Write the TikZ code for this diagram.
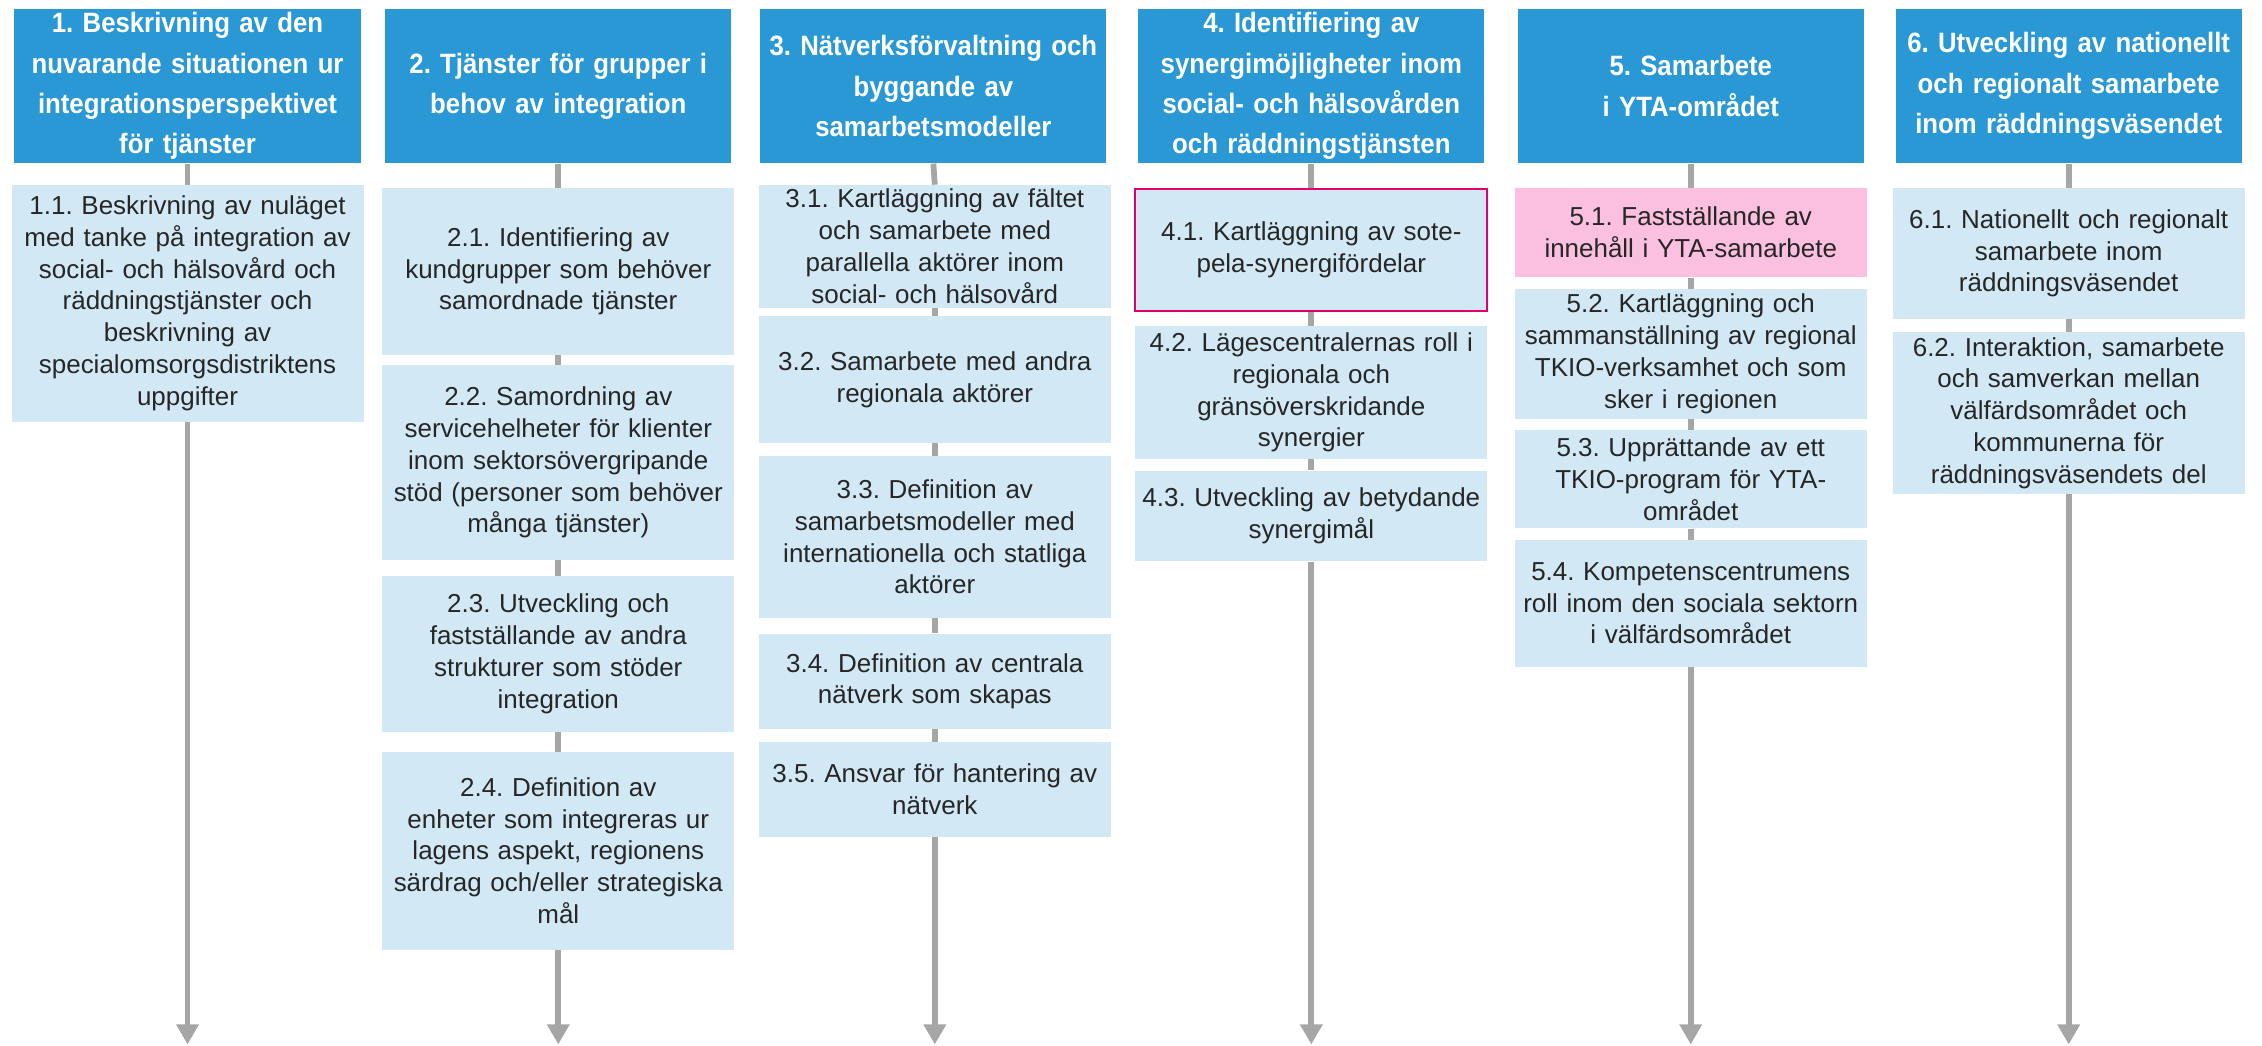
\documentclass[tikz,border=0pt]{standalone}
\usepackage{fontspec}
\setmainfont{Liberation Sans}
\newfontfamily\headfont{Liberation Sans}[FakeStretch=0.92]
\usetikzlibrary{arrows.meta}
\definecolor{hblue}{RGB}{41,152,213}
\definecolor{lblue}{RGB}{210,233,245}
\definecolor{pinkf}{RGB}{251,192,223}
\definecolor{pinkb}{RGB}{224,0,110}
\definecolor{gline}{RGB}{166,166,166}
\definecolor{txt}{RGB}{38,38,38}
\begin{document}
\frenchspacing\hyphenpenalty=10000
\begin{tikzpicture}[x=1pt,y=-1pt,
 head/.style={fill=hblue, text=white, font=\headfont\bfseries\fontsize{19.4}{28}\selectfont, anchor=north, minimum width=240pt, text width=240pt, align=center, inner sep=0pt, minimum height=107pt},
 sub/.style={fill=lblue, text=txt, font=\fontsize{18}{22}\selectfont, anchor=north, minimum width=244pt, text width=244pt, align=center, inner sep=0pt},
 hlfill/.style={sub, fill=pinkf},
 hlborder/.style={sub, draw=pinkb, line width=1.6pt},
 conn/.style={draw=gline, line width=4pt},
 arr/.style={conn, -{Triangle[width=15pt,length=14pt]}}]
\useasboundingbox (0,0) rectangle (1568,725);
% headers
\node[head] (h1) at (130,6) {1. Beskrivning av den\\nuvarande situationen ur\\integrationsperspektivet\\för tjänster};
\node[head] (h2) at (387,6) {2. Tjänster för grupper i\\behov av integration};
\node[head] (h3) at (647,6) {3. Nätverksförvaltning och\\byggande av\\samarbetsmodeller};
\node[head] (h4) at (909,6) {4. Identifiering av\\synergimöjligheter inom\\social- och hälsovården\\och räddningstjänsten};
\node[head] (h5) at (1172,6) {5. Samarbete\\i YTA-området};
\node[head] (h6) at (1434,6) {6. Utveckling av nationellt\\och regionalt samarbete\\inom räddningsväsendet};
% column 1
\node[sub, minimum height=164pt] (s11) at (130,128) {1.1. Beskrivning av nuläget\\med tanke på integration av\\social- och hälsovård och\\räddningstjänster och\\beskrivning av\\specialomsorgsdistriktens\\uppgifter};
% column 2
\node[sub, minimum height=116pt] (s21) at (387,130) {2.1. Identifiering av\\kundgrupper som behöver\\samordnade tjänster};
\node[sub, minimum height=135pt] (s22) at (387,253) {2.2. Samordning av\\servicehelheter för klienter\\inom sektorsövergripande\\stöd (personer som behöver\\många tjänster)};
\node[sub, minimum height=108pt] (s23) at (387,399) {2.3. Utveckling och\\fastställande av andra\\strukturer som stöder\\integration};
\node[sub, minimum height=137pt] (s24) at (387,521) {2.4. Definition av\\enheter som integreras ur\\lagens aspekt, regionens\\särdrag och/eller strategiska\\mål};
% column 3
\node[sub, minimum height=85pt] (s31) at (648,128) {3.1. Kartläggning av fältet\\och samarbete med\\parallella aktörer inom\\social- och hälsovård};
\node[sub, minimum height=88pt] (s32) at (648,219) {3.2. Samarbete med andra\\regionala aktörer};
\node[sub, minimum height=112pt] (s33) at (648,316) {3.3. Definition av\\samarbetsmodeller med\\internationella och statliga\\aktörer};
\node[sub, minimum height=66pt] (s34) at (648,439) {3.4. Definition av centrala\\nätverk som skapas};
\node[sub, minimum height=66pt] (s35) at (648,514) {3.5. Ansvar för hantering av\\nätverk};
% column 4
\node[hlborder, minimum height=85pt] (s41) at (909,130) {4.1. Kartläggning av sote-\\pela-synergifördelar};
\node[sub, minimum height=92pt] (s42) at (909,226) {4.2. Lägescentralernas roll i\\regionala och\\gränsöverskridande\\synergier};
\node[sub, minimum height=63pt] (s43) at (909,326) {4.3. Utveckling av betydande\\synergimål};
% column 5
\node[hlfill, minimum height=62pt] (s51) at (1172,130) {5.1. Fastställande av\\innehåll i YTA-samarbete};
\node[sub, minimum height=90pt] (s52) at (1172,200) {5.2. Kartläggning och\\sammanställning av regional\\TKIO-verksamhet och som\\sker i regionen};
\node[sub, minimum height=68pt] (s53) at (1172,298) {5.3. Upprättande av ett\\TKIO-program för YTA-\\området};
\node[sub, minimum height=88pt] (s54) at (1172,374) {5.4. Kompetenscentrumens\\roll inom den sociala sektorn\\i välfärdsområdet};
% column 6
\node[sub, minimum height=91pt] (s61) at (1434,130) {6.1. Nationellt och regionalt\\samarbete inom\\räddningsväsendet};
\node[sub, minimum height=112pt] (s62) at (1434,230) {6.2. Interaktion, samarbete\\och samverkan mellan\\välfärdsområdet och\\kommunerna för\\räddningsväsendets del};
% arrow end points
\coordinate (e1) at (130,724);
\coordinate (e2) at (387,724);
\coordinate (e3) at (648,724);
\coordinate (e4) at (909,724);
\coordinate (e5) at (1172,724);
\coordinate (e6) at (1434,724);
% connectors
\draw[conn] (h1.south) -- (s11.north);
\draw[arr] (s11.south) -- (e1);
\draw[conn] (h2.south) -- (s21.north);
\draw[conn] (s21.south) -- (s22.north);
\draw[conn] (s22.south) -- (s23.north);
\draw[conn] (s23.south) -- (s24.north);
\draw[arr] (s24.south) -- (e2);
\draw[conn] (h3.south) -- (s31.north);
\draw[conn] (s31.south) -- (s32.north);
\draw[conn] (s32.south) -- (s33.north);
\draw[conn] (s33.south) -- (s34.north);
\draw[conn] (s34.south) -- (s35.north);
\draw[arr] (s35.south) -- (e3);
\draw[conn] (h4.south) -- (s41.north);
\draw[conn] (s41.south) -- (s42.north);
\draw[conn] (s42.south) -- (s43.north);
\draw[arr] (s43.south) -- (e4);
\draw[conn] (h5.south) -- (s51.north);
\draw[conn] (s51.south) -- (s52.north);
\draw[conn] (s52.south) -- (s53.north);
\draw[conn] (s53.south) -- (s54.north);
\draw[arr] (s54.south) -- (e5);
\draw[conn] (h6.south) -- (s61.north);
\draw[conn] (s61.south) -- (s62.north);
\draw[arr] (s62.south) -- (e6);
\end{tikzpicture}
\end{document}
